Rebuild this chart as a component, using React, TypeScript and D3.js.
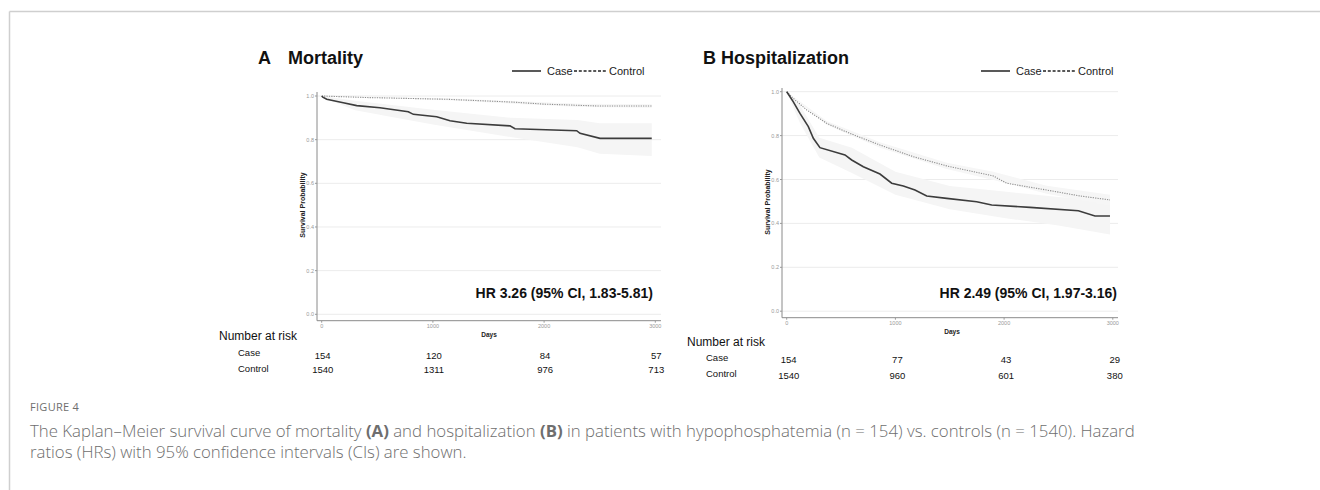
import * as d3 from "d3";

// axis ticks
const yTicks = [0, 0.2, 0.4, 0.6, 0.8, 1.0];
const xTicks = [0, 1000, 2000, 3000];
const riskGroups = ["Case", "Control"];

// A: mortality
const mortCaseDays = [0, 10, 45, 194, 315, 524, 779, 824, 1034, 1154, 1304, 1693, 1738, 2293, 2323, 2503, 2968];
const mortCaseSurv = [1.0, 0.995, 0.985, 0.969, 0.956, 0.946, 0.928, 0.916, 0.905, 0.887, 0.875, 0.863, 0.85, 0.841, 0.829, 0.806, 0.806];
const mortCtrlDays = [0, 400, 1124, 1720, 1990, 2323, 2500, 2968];
const mortCtrlSurv = [1.0, 0.993, 0.985, 0.972, 0.963, 0.957, 0.954, 0.954];
const mortCaseBandDays = [0, 300, 1000, 1700, 2300, 2500, 2968];
const mortCaseLo = [0.995, 0.935, 0.87, 0.812, 0.765, 0.735, 0.725];
const mortCaseHi = [1.0, 0.978, 0.937, 0.9, 0.89, 0.875, 0.875];
const mortCtrlBandDays = [0, 1124, 2323, 2968];
const mortCtrlLo = [1.0, 0.98, 0.95, 0.946];
const mortCtrlHi = [1.0, 0.99, 0.964, 0.962];
const mortRiskCase = [154, 120, 84, 57];
const mortRiskCtrl = [1540, 1311, 976, 713];

// B: hospitalization
const hospCaseDays = [0, 20, 61, 122, 199, 245, 306, 536, 598, 705, 858, 966, 1073, 1180, 1288, 1472, 1748, 1886, 2238, 2683, 2836, 2974];
const hospCaseSurv = [1.0, 0.985, 0.954, 0.901, 0.841, 0.788, 0.745, 0.712, 0.689, 0.658, 0.625, 0.583, 0.57, 0.552, 0.525, 0.514, 0.499, 0.484, 0.473, 0.458, 0.434, 0.434];
const hospCtrlDays = [0, 60, 184, 368, 582, 858, 1165, 1472, 1901, 2024, 2392, 2698, 2974];
const hospCtrlSurv = [1.0, 0.97, 0.917, 0.856, 0.81, 0.757, 0.704, 0.662, 0.616, 0.583, 0.552, 0.525, 0.507];
const hospCaseBandDays = [0, 120, 300, 600, 1000, 1500, 2000, 2500, 2974];
const hospCaseLo = [1.0, 0.86, 0.7, 0.63, 0.53, 0.465, 0.425, 0.39, 0.35];
const hospCaseHi = [1.0, 0.94, 0.79, 0.745, 0.635, 0.57, 0.545, 0.52, 0.505];
const hospCtrlBandDays = [0, 368, 858, 1472, 1901, 2392, 2974];
const hospCtrlLo = [1.0, 0.848, 0.745, 0.648, 0.598, 0.535, 0.482];
const hospCtrlHi = [1.0, 0.866, 0.77, 0.676, 0.635, 0.572, 0.53];
const hospRiskCase = [154, 77, 43, 29];
const hospRiskCtrl = [1540, 960, 601, 380];

const FONT = "'Liberation Sans', Arial, sans-serif";

type Layout = {
  x0: number; x3000: number; right: number; yOne: number; yZero: number;
  axisX: number; axisY: number; axisTop: number;
  titleX: number; titleLetterX: number; legendX: number;
  yLabelX: number; yLabelY: number; daysX: number; daysY: number; tickY: number;
  hrRight: number; riskX: number; riskTitleY: number; riskLabelX: number;
  riskRowY: number[]; riskNumY: number[]; riskOffset: number;
};

type PanelProps = {
  letter: string; title: string; hr: string; layout: Layout;
  caseDays: number[]; caseSurv: number[]; ctrlDays: number[]; ctrlSurv: number[];
  caseBand: [number[], number[], number[]]; ctrlBand: [number[], number[], number[]];
  risk: number[][];
};

function Panel(p: PanelProps) {
  const L = p.layout;
  const x = d3.scaleLinear().domain([0, 3000]).range([L.x0, L.x3000]);
  const y = d3.scaleLinear().domain([0, 1]).range([L.yZero, L.yOne]);
  const line = d3.line<[number, number]>().x(d => x(d[0])).y(d => y(d[1]));
  const area = d3.area<[number, number, number]>().x(d => x(d[0])).y0(d => y(d[1])).y1(d => y(d[2]));
  const zip2 = (a: number[], b: number[]) => a.map((v, i) => [v, b[i]] as [number, number]);
  const zip3 = (b: [number[], number[], number[]]) => b[0].map((v, i) => [v, b[1][i], b[2][i]] as [number, number, number]);

  return (
    <g fontFamily={FONT}>
      <text x={L.titleLetterX} y={64} fontSize={18} fontWeight="bold" fill="#111">{p.letter}</text>
      <text x={L.titleX} y={64} fontSize={18} fontWeight="bold" fill="#111">{p.title}</text>

      {/* legend */}
      <g transform={`translate(${L.legendX},71)`} fontSize={11} fill="#222">
        <line x1={0} x2={29} y1={0} y2={0} stroke="#222" strokeWidth={1.5} />
        <text x={35} y={4}>Case</text>
        <line x1={62} x2={94} y1={0} y2={0} stroke="#222" strokeWidth={1.5} strokeDasharray="3 1.8" />
        <text x={97} y={4}>Control</text>
      </g>

      {/* grid */}
      {yTicks.map(t => (
        <line key={t} x1={L.axisX} x2={L.right} y1={y(t)} y2={y(t)} stroke="#ececec" strokeWidth={1} />
      ))}

      {/* bands */}
      <path d={area(zip3(p.caseBand)) || ""} fill="#f5f5f5" />
      <path d={area(zip3(p.ctrlBand)) || ""} fill="#f6f6f6" />

      {/* curves */}
      <path d={line(zip2(p.ctrlDays, p.ctrlSurv)) || ""} fill="none" stroke="#8c8c8c" strokeWidth={1.1} strokeDasharray="1.2 1.2" />
      <path d={line(zip2(p.caseDays, p.caseSurv)) || ""} fill="none" stroke="#3c3c3c" strokeWidth={1.6} />

      {/* axes */}
      <line x1={L.axisX} x2={L.axisX} y1={L.axisTop} y2={L.axisY} stroke="#8a8a8a" strokeWidth={1} />
      <line x1={L.axisX} x2={L.right} y1={L.axisY} y2={L.axisY} stroke="#8a8a8a" strokeWidth={1} />
      {yTicks.map(t => (
        <g key={t}>
          <line x1={L.axisX - 2} x2={L.axisX} y1={y(t)} y2={y(t)} stroke="#999" />
          <text x={L.axisX - 3} y={y(t) + 2} fontSize={5.5} fill="#999" textAnchor="end">{d3.format(".1f")(t)}</text>
        </g>
      ))}
      {xTicks.map(t => (
        <g key={t}>
          <line x1={x(t)} x2={x(t)} y1={L.axisY} y2={L.axisY + 2} stroke="#999" />
          <text x={x(t)} y={L.tickY} fontSize={5.5} fill="#999" textAnchor="middle">{t}</text>
        </g>
      ))}
      <text x={L.daysX} y={L.daysY} fontSize={6.5} fontWeight="bold" fill="#222" textAnchor="middle">Days</text>
      <text transform={`translate(${L.yLabelX},${L.yLabelY}) rotate(-90)`} fontSize={7} fontWeight="bold" fill="#222" textAnchor="middle">Survival Probability</text>

      <text x={L.hrRight} y={298} fontSize={14} fontWeight="bold" fill="#111" textAnchor="end">{p.hr}</text>

      {/* risk table */}
      <text x={L.riskX} y={L.riskTitleY} fontSize={12} fill="#111">Number at risk</text>
      {riskGroups.map((g, i) => (
        <g key={g}>
          <text x={L.riskLabelX} y={L.riskRowY[i]} fontSize={9.5} fill="#111">{g}</text>
          {p.risk[i].map((n, j) => (
            <text key={j} x={x(xTicks[j]) + L.riskOffset} y={L.riskNumY[i]} fontSize={9.5} fill="#111" textAnchor="middle">{n}</text>
          ))}
        </g>
      ))}
    </g>
  );
}

const layoutA: Layout = {
  x0: 321.7, x3000: 655.3, right: 661, yOne: 96, yZero: 314.3,
  axisX: 317, axisY: 320.7, axisTop: 92,
  titleX: 288, titleLetterX: 258, legendX: 512,
  yLabelX: 304.5, yLabelY: 205, daysX: 489, daysY: 337, tickY: 327.5,
  hrRight: 653, riskX: 219, riskTitleY: 339.5, riskLabelX: 238,
  riskRowY: [355.5, 371.5], riskNumY: [358.5, 372.5], riskOffset: 1,
};

const layoutB: Layout = {
  x0: 786.7, x3000: 1112.8, right: 1118, yOne: 91.7, yZero: 311.2,
  axisX: 782, axisY: 317.7, axisTop: 88,
  titleX: 721, titleLetterX: 703, legendX: 981,
  yLabelX: 769.5, yLabelY: 202, daysX: 952, daysY: 334, tickY: 324.5,
  hrRight: 1117, riskX: 687, riskTitleY: 345.5, riskLabelX: 706,
  riskRowY: [360.5, 376.5], riskNumY: [362.5, 378.5], riskOffset: 2,
};

export default function App() {
  return (
    <svg width={1320} height={490} style={{ position: "absolute", left: 0, top: 0, background: "#fff" }}>
      <line x1={9.5} x2={1320} y1={11.5} y2={11.5} stroke="#cfcfcf" strokeWidth={1.5} />
      <line x1={9.5} x2={9.5} y1={11.5} y2={490} stroke="#cfcfcf" strokeWidth={1.5} />

      <Panel letter="A" title="Mortality" hr="HR 3.26 (95% CI, 1.83-5.81)" layout={layoutA}
        caseDays={mortCaseDays} caseSurv={mortCaseSurv} ctrlDays={mortCtrlDays} ctrlSurv={mortCtrlSurv}
        caseBand={[mortCaseBandDays, mortCaseLo, mortCaseHi]} ctrlBand={[mortCtrlBandDays, mortCtrlLo, mortCtrlHi]}
        risk={[mortRiskCase, mortRiskCtrl]} />
      <Panel letter="B" title="Hospitalization" hr="HR 2.49 (95% CI, 1.97-3.16)" layout={layoutB}
        caseDays={hospCaseDays} caseSurv={hospCaseSurv} ctrlDays={hospCtrlDays} ctrlSurv={hospCtrlSurv}
        caseBand={[hospCaseBandDays, hospCaseLo, hospCaseHi]} ctrlBand={[hospCtrlBandDays, hospCtrlLo, hospCtrlHi]}
        risk={[hospRiskCase, hospRiskCtrl]} />

      <g fontFamily="'Open Sans', 'Noto Sans', sans-serif" fill="#6e6e6e">
        <text x={30} y={411} fontSize={11} letterSpacing={0.3}>FIGURE 4</text>
        <text x={30} y={437} fontSize={16.8} fontWeight={300}>
          The Kaplan–Meier survival curve of mortality <tspan fontWeight="bold">(A)</tspan> and hospitalization <tspan fontWeight="bold">(B)</tspan> in patients with hypophosphatemia (n = 154) vs. controls (n = 1540). Hazard
        </text>
        <text x={30} y={458} fontSize={16.8} fontWeight={300}>ratios (HRs) with 95% confidence intervals (CIs) are shown.</text>
      </g>
    </svg>
  );
}
